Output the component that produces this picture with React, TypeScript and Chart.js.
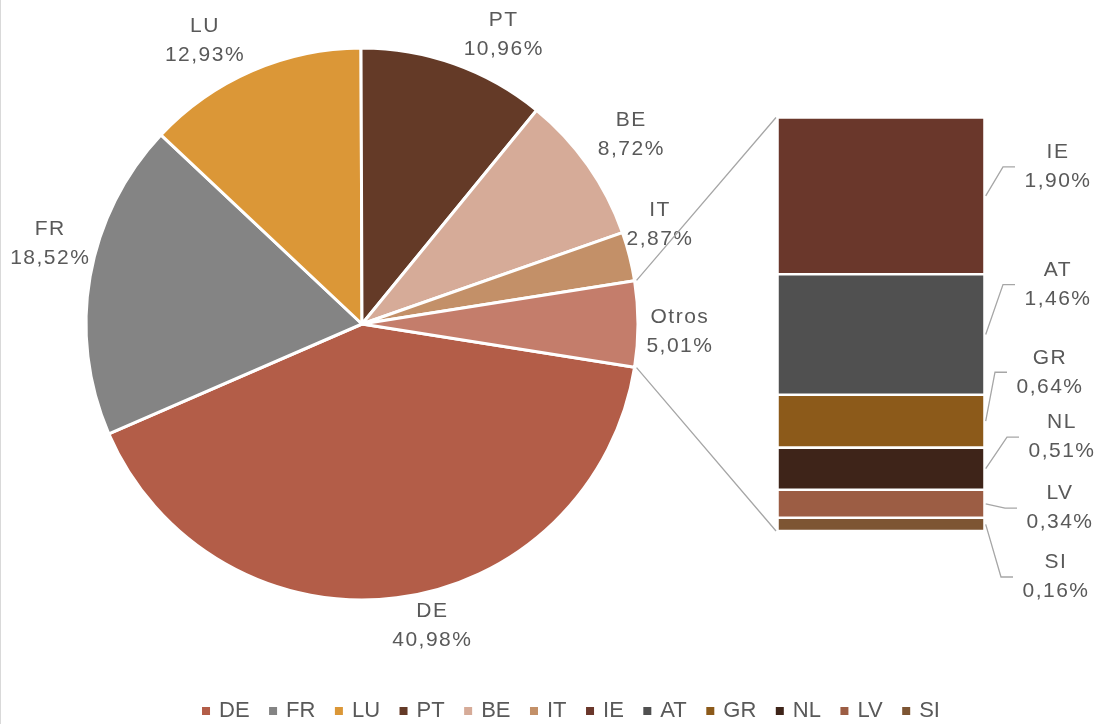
import React, { useEffect, useRef } from "react";
import { Chart, registerables } from "chart.js";
Chart.register(...registerables);

const pieLabels = ["DE", "FR", "LU", "PT", "BE", "IT", "Otros"];
const pieValues = [40.98, 18.52, 12.93, 10.96, 8.72, 2.87, 5.01];
const pieColors = ["#B35D48", "#848484", "#DB9737", "#643A27", "#D6AB98", "#C39068", "#C47D6B"];

const barLabels = ["IE", "AT", "GR", "NL", "LV", "SI"];
const barValues = [1.9, 1.46, 0.64, 0.51, 0.34, 0.16];
const barColors = ["#6A372B", "#505050", "#8C5A1A", "#3E2419", "#9C5D44", "#7D5533"];

const legendLabels = ["DE", "FR", "LU", "PT", "BE", "IT", "IE", "AT", "GR", "NL", "LV", "SI"];
const legendColors = [...pieColors.slice(0, 6), ...barColors];

const FONT = "21px 'Liberation Sans', Arial, sans-serif";
const LEGEND_FONT = "22px 'Liberation Sans', Arial, sans-serif";
const TEXT = "#595959";
const LINE = "#A6A6A6";

const fmt = (v: number) => v.toFixed(2).replace(".", ",") + "%";

// label placement tweaks: [angle nudge (deg, clockwise), distance beyond outer radius]
const pieLabelTweaks = [
  [-5.9, 34],
  [4.6, 46],
  [-5.5, 48],
  [6.6, 46],
  [0, 53],
  [-4.2, 38],
  [1.4, 42],
];
// bar labels: [dx from bar right edge, dy from segment centre]
const barLabelTweaks = [
  [73.5, -29],
  [73.5, -50],
  [65.5, -49],
  [77.5, -31.6],
  [75.5, 4.3],
  [71.5, 52.6],
];

function drawTwoLine(ctx: CanvasRenderingContext2D, a: string, b: string, x: number, y: number) {
  ctx.save();
  ctx.font = FONT;
  ctx.fillStyle = TEXT;
  ctx.textAlign = "center";
  ctx.textBaseline = "middle";
  (ctx as any).letterSpacing = "1.5px";
  ctx.fillText(a, x, y - 14.5);
  ctx.fillText(b, x, y + 14.5);
  ctx.restore();
}

export default function App() {
  const pieRef = useRef<HTMLCanvasElement>(null);
  const barRef = useRef<HTMLCanvasElement>(null);

  useEffect(() => {
    const total = pieValues.reduce((s, v) => s + v, 0);
    const otros = pieValues[pieValues.length - 1];
    const othersTotal = barValues.reduce((s, v) => s + v, 0);

    const pieLabelPlugin = {
      id: "pieLabels",
      beforeDraw(chart: any) {
        const ctx = chart.ctx;
        ctx.save();
        ctx.strokeStyle = "#D9D9D9";
        ctx.lineWidth = 1;
        ctx.beginPath();
        ctx.moveTo(0.5, 0);
        ctx.lineTo(0.5, chart.height);
        ctx.stroke();
        ctx.restore();
      },
      afterDraw(chart: any) {
        const ctx = chart.ctx;
        const meta = chart.getDatasetMeta(0);
        meta.data.forEach((arc: any, i: number) => {
          const p = arc.getProps(["x", "y", "startAngle", "endAngle", "outerRadius"], true);
          const mid = (p.startAngle + p.endAngle) / 2 + (pieLabelTweaks[i][0] * Math.PI) / 180;
          const d = p.outerRadius + pieLabelTweaks[i][1];
          drawTwoLine(ctx, pieLabels[i], fmt(pieValues[i]), p.x + Math.cos(mid) * d, p.y + Math.sin(mid) * d);
        });
        // legend
        ctx.save();
        ctx.font = LEGEND_FONT;
        const box = 8, gapBox = 9, gapItem = 19.5;
        const widths = legendLabels.map((l) => ctx.measureText(l).width);
        const totalW = widths.reduce((s, w) => s + box + gapBox + w, 0) + gapItem * (legendLabels.length - 1);
        let x = 571 - totalW / 2;
        const y = 711;
        ctx.textBaseline = "middle";
        ctx.textAlign = "left";
        legendLabels.forEach((l, i) => {
          ctx.fillStyle = legendColors[i];
          ctx.fillRect(x, y - box / 2, box, box);
          x += box + gapBox;
          ctx.fillStyle = TEXT;
          ctx.fillText(l, x, y);
          x += widths[i] + gapItem;
        });
        ctx.restore();
      },
    };

    const pie = new Chart(pieRef.current!, {
      type: "pie",
      data: {
        labels: pieLabels,
        datasets: [
          {
            data: pieValues,
            backgroundColor: pieColors,
            borderColor: "#FFFFFF",
            borderWidth: 3,
            radius: 276,
          } as any,
        ],
      },
      options: {
        responsive: false,
        animation: false,
        events: [],
        rotation: 90 + ((otros / 2) / total) * 360,
        layout: { padding: { left: 86, right: 458, top: 48, bottom: 124 } },
        plugins: { legend: { display: false }, tooltip: { enabled: false } },
      } as any,
      plugins: [pieLabelPlugin],
    });

    const barPlugin = {
      id: "barLabels",
      afterDraw(chart: any) {
        const ctx = chart.ctx;
        const yScale = chart.scales.y;
        const first = chart.getDatasetMeta(0).data[0];
        const left = first.x - first.width / 2;
        const right = first.x + first.width / 2;
        const top = yScale.getPixelForValue(0);
        const bottom = yScale.getPixelForValue(othersTotal);
        // connectors to pie
        const arc = pie.getDatasetMeta(0).data[pieValues.length - 1] as any;
        const p = arc.getProps(["x", "y", "startAngle", "endAngle", "outerRadius"], true);
        const r = p.outerRadius + 2;
        ctx.save();
        ctx.strokeStyle = LINE;
        ctx.lineWidth = 1.3;
        ctx.beginPath();
        ctx.moveTo(p.x + Math.cos(p.startAngle) * r, p.y + Math.sin(p.startAngle) * r);
        ctx.lineTo(left - 1.5, top);
        ctx.moveTo(p.x + Math.cos(p.endAngle) * r, p.y + Math.sin(p.endAngle) * r);
        ctx.lineTo(left - 1.5, bottom);
        ctx.stroke();
        ctx.restore();
        // labels with leader lines
        barLabels.forEach((lab, i) => {
          const el = chart.getDatasetMeta(i).data[0];
          const cy = (el.y + el.base) / 2;
          const lx = right + barLabelTweaks[i][0];
          const ly = cy + barLabelTweaks[i][1];
          ctx.save();
          ctx.strokeStyle = LINE;
          ctx.lineWidth = 1.3;
          ctx.beginPath();
          ctx.moveTo(right + 1.2, cy);
          ctx.lineTo(lx - 55, ly);
          ctx.lineTo(lx - 43, ly);
          ctx.stroke();
          ctx.restore();
          drawTwoLine(ctx, lab, fmt(barValues[i]), lx, ly);
        });
      },
    };

    const bar = new Chart(barRef.current!, {
      type: "bar",
      data: {
        labels: [""],
        datasets: barLabels.map((l, i) => ({
          label: l,
          data: [barValues[i]],
          backgroundColor: barColors[i],
          borderColor: "#FFFFFF",
          borderWidth: 1.6,
          borderSkipped: false,
          barPercentage: 1,
          categoryPercentage: 1,
        })) as any,
      },
      options: {
        responsive: false,
        animation: false,
        events: [],
        layout: { padding: { left: 777.5, right: 111.5, top: 117.5, bottom: 193 } },
        scales: {
          x: { display: false, stacked: true },
          y: { display: false, stacked: true, min: 0, max: othersTotal, reverse: true },
        },
        plugins: { legend: { display: false }, tooltip: { enabled: false } },
      } as any,
      plugins: [barPlugin],
    });

    return () => {
      bar.destroy();
      pie.destroy();
    };
  }, []);

  const canvasStyle: React.CSSProperties = { position: "absolute", left: 0, top: 0, display: "block" };
  return (
    <div style={{ position: "absolute", left: 0, top: 0, width: 1096, height: 724, background: "#FFFFFF" }}>
      <canvas ref={pieRef} width={1096} height={724} style={canvasStyle} />
      <canvas ref={barRef} width={1096} height={724} style={canvasStyle} />
    </div>
  );
}
